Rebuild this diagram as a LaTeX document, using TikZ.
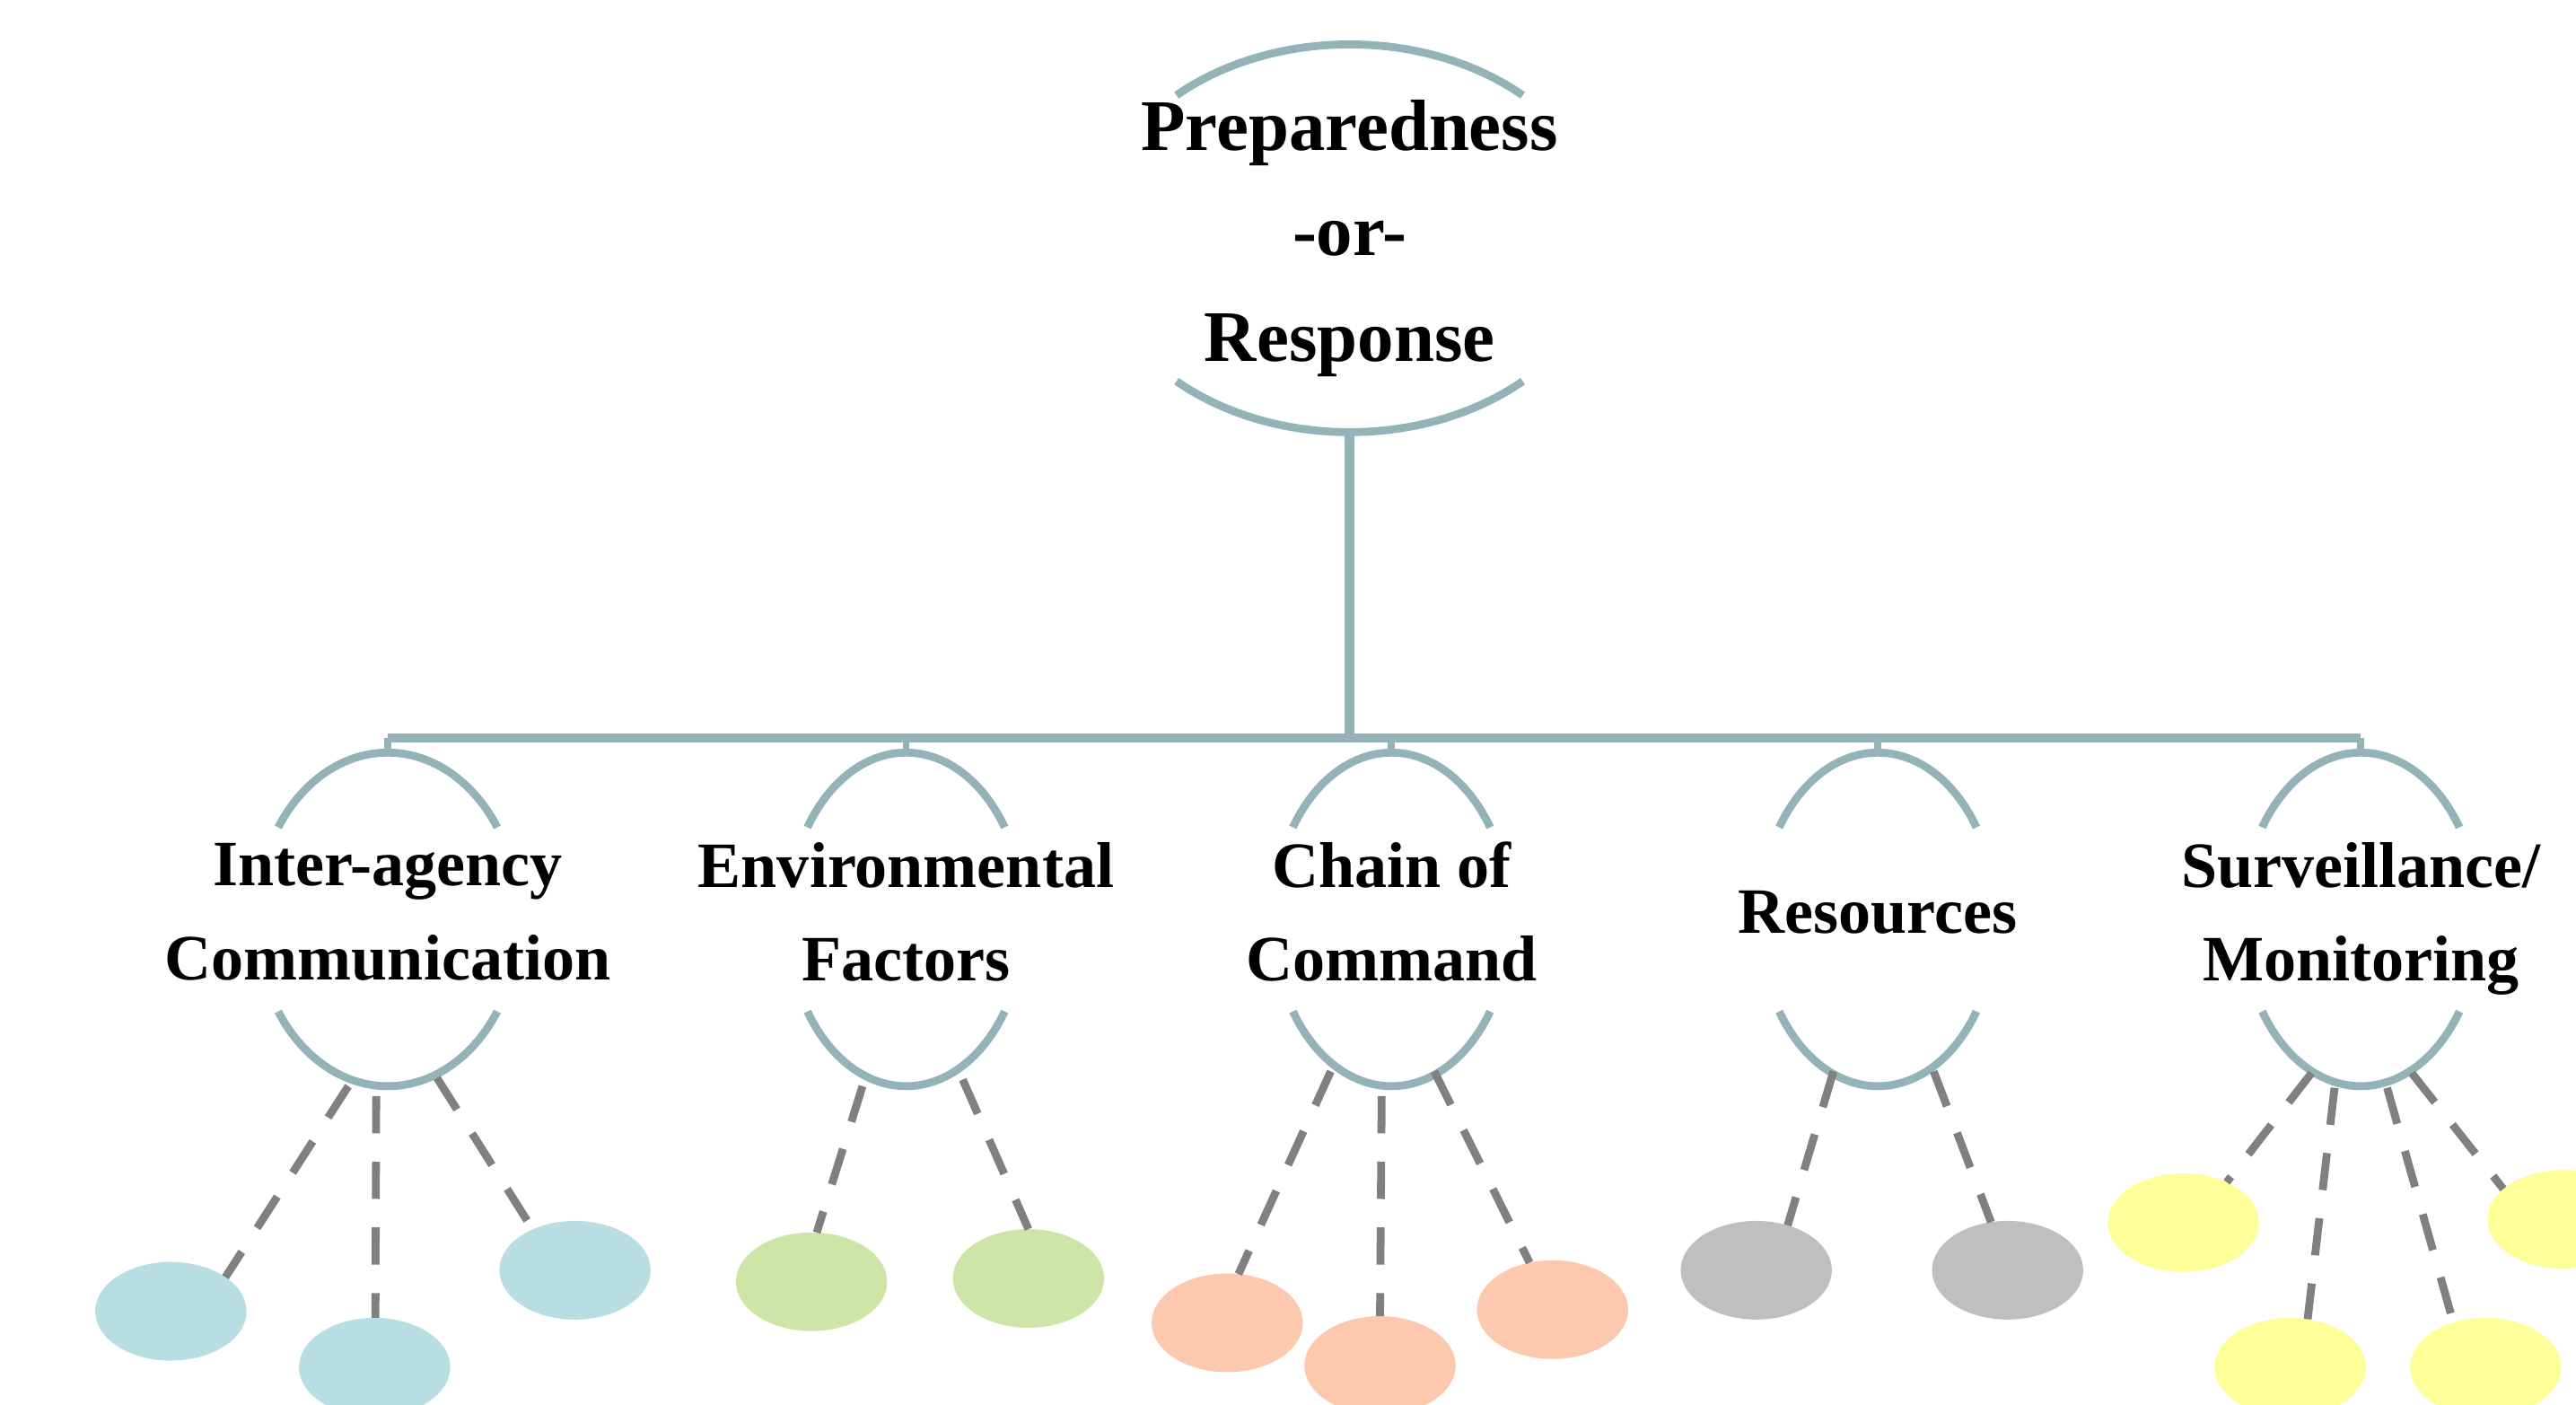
\documentclass[tikz,border=0pt]{standalone}
\usepackage{fontspec}
\setmainfont{Liberation Serif}
\usetikzlibrary{shapes.geometric}
\definecolor{arcc}{RGB}{148,179,184}
\definecolor{dashc}{RGB}{128,128,128}
\definecolor{leafblue}{RGB}{184,222,227}
\definecolor{leafgreen}{RGB}{205,230,168}
\definecolor{leafsalmon}{RGB}{252,200,174}
\definecolor{leafgray}{RGB}{191,191,191}
\definecolor{leafyellow}{RGB}{255,255,153}
\begin{document}
\begin{tikzpicture}[x=0.0183cm,y=0.0183cm,
  arcline/.style={draw=arcc,line width=2.5pt},
  conn/.style={draw=arcc,line width=3pt},
  stub/.style={draw=arcc,line width=2.2pt},
  dashline/.style={draw=dashc,line width=2.5pt,dash pattern=on 11.8pt off 9pt},
  leaf/.style={ellipse,draw=none,minimum width=1.684cm,minimum height=1.098cm,inner sep=0pt,outer sep=0pt},
  toplabel/.style={align=center,font=\fontsize{23}{33.5}\selectfont\bfseries,inner sep=0pt},
  sublabel/.style={align=center,font=\fontsize{20.5}{29.6}\selectfont\bfseries,inner sep=0pt},
]
\useasboundingbox (0,0) rectangle (1568,855);
\fill[white] (0,0) rectangle (1568,855);

% ---------- top node ----------
\coordinate (topc) at (821.5,710);
\coordinate (topb) at (821.5,592);
\node[toplabel] (top) at (821.5,710) {Preparedness\\-or-\\Response};
\draw[arcline] ([shift={(47.5:156 and 118)}]topc) arc[start angle=47.5,end angle=132.5,x radius=156,y radius=118];
\draw[arcline] ([shift={(227.5:156 and 118)}]topc) arc[start angle=227.5,end angle=312.5,x radius=156,y radius=118];

% ---------- bus ----------
\coordinate (b0) at (821.5,406);
\coordinate (b1) at (236,406);
\coordinate (b2) at (551.5,406);
\coordinate (b3) at (847,406);
\coordinate (b4) at (1143,406);
\coordinate (b5) at (1437,406);
\coordinate (t1) at (236,397);
\coordinate (t2) at (551.5,397);
\coordinate (t3) at (847,397);
\coordinate (t4) at (1143,397);
\coordinate (t5) at (1437,397);
\draw[conn] (topb) -- (b0);
\draw[conn] (b1) -- (b5);
\draw[stub] (b1) -- (t1);
\draw[stub] (b2) -- (t2);
\draw[stub] (b3) -- (t3);
\draw[stub] (b4) -- (t4);
\draw[stub] (b5) -- (t5);

% ---------- child nodes ----------
\coordinate (e1) at (236,295.5);
\coordinate (e2) at (551.5,295.5);
\coordinate (e3) at (847,295.5);
\coordinate (e4) at (1143,295.5);
\coordinate (e5) at (1437,295.5);

\draw[arcline] ([shift={(33.5:80 and 101.5)}]e1) arc[start angle=33.5,end angle=146.5,x radius=80,y radius=101.5];
\draw[arcline] ([shift={(213.5:80 and 101.5)}]e1) arc[start angle=213.5,end angle=326.5,x radius=80,y radius=101.5];
\foreach \e in {e2,e3,e4,e5}{
  \draw[arcline] ([shift={(33.5:72 and 101.5)}]\e) arc[start angle=33.5,end angle=146.5,x radius=72,y radius=101.5];
  \draw[arcline] ([shift={(213.5:72 and 101.5)}]\e) arc[start angle=213.5,end angle=326.5,x radius=72,y radius=101.5];
}

\node[sublabel] (ia)  at (236,300)   {Inter-agency\\Communication};
\node[sublabel] (env) at (551.5,300) {Environmental\\Factors};
\node[sublabel] (coc) at (847,300)   {Chain of\\Command};
\node[sublabel] (res) at (1143,300)  {Resources};
\node[sublabel] (sur) at (1437,296)  {Surveillance/\\Monitoring};

% ---------- leaves ----------
\node[leaf,fill=leafblue] (l11) at (104,57) {};
\node[leaf,fill=leafblue] (l12) at (228,23) {};
\node[leaf,fill=leafblue] (l13) at (350,82) {};
\node[leaf,fill=leafgreen] (l21) at (494,75) {};
\node[leaf,fill=leafgreen] (l22) at (626,77) {};
\node[leaf,fill=leafsalmon] (l31) at (747,50) {};
\node[leaf,fill=leafsalmon] (l32) at (840,24) {};
\node[leaf,fill=leafsalmon] (l33) at (945,58) {};
\node[leaf,fill=leafgray] (l41) at (1069,82) {};
\node[leaf,fill=leafgray] (l42) at (1222,82) {};
\node[leaf,fill=leafyellow] (l51) at (1329,111) {};
\node[leaf,fill=leafyellow] (l52) at (1394,23) {};
\node[leaf,fill=leafyellow] (l53) at (1513,23) {};
\node[leaf,fill=leafyellow] (l54) at (1560,113) {};

% ---------- dashed connectors ----------
\coordinate (s11) at (212,194);
\coordinate (s12) at (229,188);
\coordinate (s13) at (266,199);
\coordinate (s21) at (525,194);
\coordinate (s22) at (586,198);
\coordinate (s31) at (810,203);
\coordinate (s32) at (841,188);
\coordinate (s33) at (873,203);
\coordinate (s41) at (1116,203);
\coordinate (s42) at (1177,203);
\coordinate (s51) at (1407,202);
\coordinate (s52) at (1421,193);
\coordinate (s53) at (1453,193);
\coordinate (s54) at (1468,202);

\draw[dashline] (s11) -- (l11.32);
\draw[dashline] (s12) -- (l12.89);
\draw[dashline] (s13) -- (l13.136);
\draw[dashline] (s21) -- (l21.84);
\draw[dashline] (s22) -- (l22.90);
\draw[dashline] (s31) -- (l31.77);
\draw[dashline] (s32) -- (l32.90);
\draw[dashline] (s33) -- (l33.116);
\draw[dashline] (s41) -- (l41.55);
\draw[dashline] (s42) -- (l42.109);
\draw[dashline] (s51) -- (l51.43);
\draw[dashline] (s52) -- (l52.70);
\draw[dashline] (s53) -- (l53.126);
\draw[dashline] (s54) -- (l54.153);
\end{tikzpicture}
\end{document}
